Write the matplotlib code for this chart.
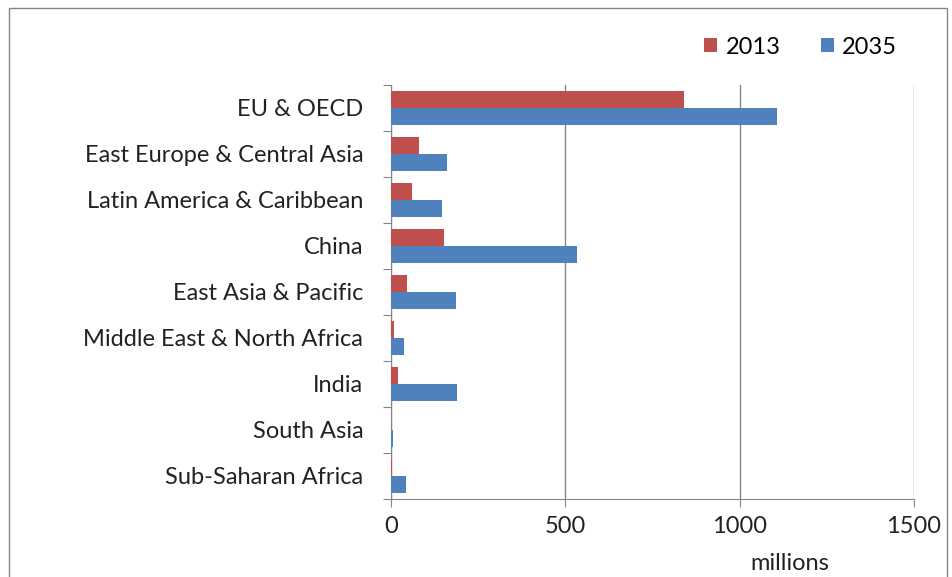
import matplotlib
matplotlib.use("Agg")
import matplotlib.pyplot as plt
from matplotlib.patches import Rectangle
import numpy as np

# regions, top to bottom
regions = ["EU & OECD", "East Europe & Central Asia", "Latin America & Caribbean",
           "China", "East Asia & Pacific", "Middle East & North Africa",
           "India", "South Asia", "Sub-Saharan Africa"]
vals_2013 = [841, 79, 60, 151, 47, 10, 19, 1, 4]
vals_2035 = [1108, 162, 147, 533, 185, 36, 188, 5, 42]
xticks = [0, 500, 1000, 1500]

red = "#C0504D"
blue = "#4F81BD"
grey = "#868686"
txt = "#222222"
fs = 17

plt.rcParams['font.family'] = ['Lato', 'DejaVu Sans']

fig = plt.figure(figsize=(9.52, 5.77), dpi=100)
# outer chart frame
fig.patches.append(Rectangle((9 / 952, -0.05), 938 / 952, 1 - 8 / 577 + 0.05,
                             transform=fig.transFigure, fill=False,
                             edgecolor=grey, linewidth=1.0))

ax = fig.add_axes([391 / 952, 78 / 577, 523 / 952, 414 / 577])
y = np.arange(len(regions))
h = 0.36
ax.barh(y - h / 2, vals_2013, height=h, color=red, label="2013", zorder=3)
ax.barh(y + h / 2, vals_2035, height=h, color=blue, label="2035", zorder=3)

ax.set_xlim(0, 1500)
ax.set_ylim(len(regions) - 0.5, -0.5)
ax.set_xticks(xticks)
ax.set_xticklabels([str(t) for t in xticks], fontsize=fs, color=txt)
ax.set_yticks(np.arange(len(regions) + 1) - 0.5, minor=False)
ax.set_yticklabels([])
ax.set_yticks(y, minor=True)
ax.set_yticklabels(regions, minor=True, fontsize=fs, color=txt)
ax.tick_params(axis='y', which='minor', length=0, pad=20)
ax.tick_params(axis='y', which='major', length=6, color=grey, direction='out')
ax.tick_params(axis='x', length=6, color=grey, direction='out', pad=6)

ax.grid(axis='x', color=grey, linewidth=1.0, zorder=0)
for s in ['top', 'right']:
    ax.spines[s].set_visible(False)
for s in ['left', 'bottom']:
    ax.spines[s].set_color(grey)

fig.text(790 / 952, 1 - 564 / 577, "millions", ha='center', va='center',
         fontsize=fs, color=txt)

ax.legend(loc='center right', bbox_to_anchor=(897 / 952, 1 - 47 / 577),
          bbox_transform=fig.transFigure, ncol=2, frameon=False, fontsize=fs,
          handlelength=0.55, handleheight=0.55, handletextpad=0.35,
          columnspacing=1.7, borderpad=0, borderaxespad=0)

fig.savefig("out.png", dpi=100)
